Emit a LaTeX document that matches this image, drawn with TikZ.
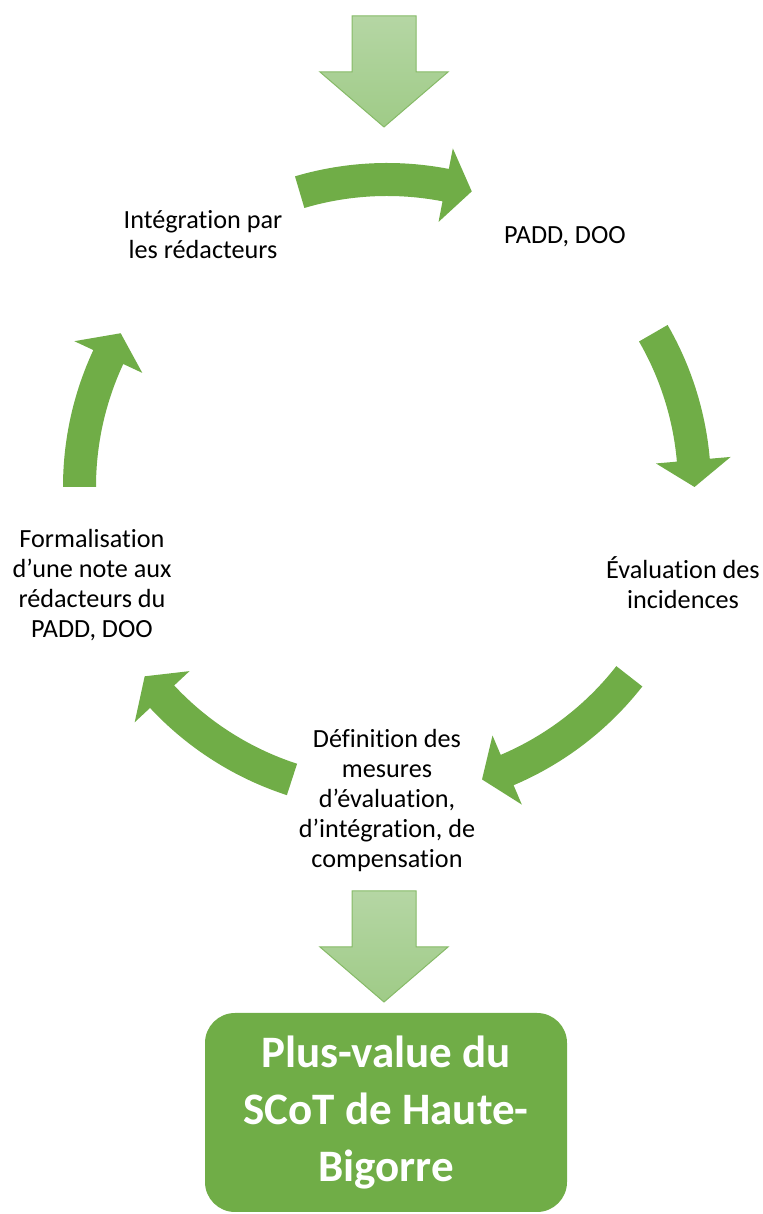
\documentclass[tikz,border=0pt]{standalone}
\usepackage{fontspec}
\setmainfont[Ligatures={NoCommon}]{Carlito}
\usetikzlibrary{calc}
\definecolor{leaf}{HTML}{70AD47}
\definecolor{paleleaf}{HTML}{B5D6A4}
\definecolor{midleaf}{HTML}{9FCB87}
\definecolor{edgeleaf}{HTML}{86BA67}

\begin{document}
\begin{tikzpicture}[x=0.5pt, y=0.5pt,
    steplabel/.style={align=center, inner sep=0pt, font=\fontsize{13.1}{15}\selectfont},
    cyclearrow/.style={fill=leaf},
    downarrow/.style={top color=paleleaf, bottom color=midleaf, draw=edgeleaf, line width=0.5pt},
    resultbox/.style={fill=leaf, rounded corners=15pt, minimum width=181pt, minimum height=99.5pt,
        align=center, text=white, font=\bfseries\fontsize{22.5}{28.5}\selectfont}]
    \useasboundingbox (0,0) rectangle (762,1214);
    \coordinate (hub) at (387,727);
    % curved arrows of the cycle
    \foreach \a/\b/\t in {106.5/79/74, 30/5/0, -38/-67/-72, -108/-137/-142, 180/155/150}{
        \fill[cyclearrow]
            ($(hub)+(\a:324)$) arc[start angle=\a, end angle=\b, radius=324]
            -- ($(hub)+(\b:345)$) -- ($(hub)+(\t:307.5)$) -- ($(hub)+(\b:270)$)
            -- ($(hub)+(\b:291)$) arc[start angle=\b, end angle=\a, radius=291] -- cycle;
    }
    % straight arrows in and out
    \foreach \y in {1198, 323}{
        \draw[downarrow] (352,\y) -- (416,\y) -- (416,\y-56) -- (448,\y-56)
            -- (384,\y-111) -- (320,\y-56) -- (352,\y-56) -- cycle;
    }
    \node[steplabel] (integ) at (203,979) {Intégration par\\les rédacteurs};
    \node[steplabel] (padd) at (565,977) {PADD, DOO};
    \node[steplabel] (evalinc) at (683,631) {Évaluation des\\incidences};
    \node[steplabel] (defmes) at (387,413)
        {Définition des\\mesures\\d’évaluation,\\d’intégration, de\\compensation};
    \node[steplabel] (formal) at (92,629)
        {Formalisation\\d’une note aux\\rédacteurs du\\PADD, DOO};
    \node[resultbox] (plusvalue) at (386,101.5) {Plus-value du\\SCoT de Haute-\\Bigorre};
\end{tikzpicture}
\end{document}
